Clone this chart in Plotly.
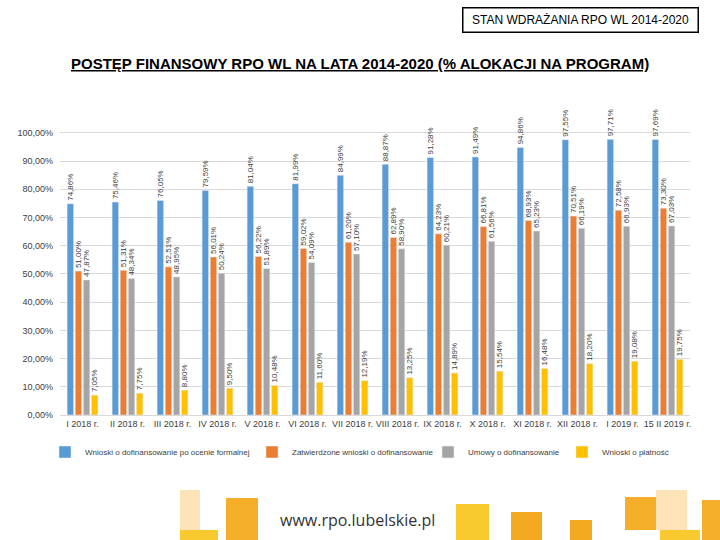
import plotly.graph_objects as go

categories = ["I 2018 r.", "II 2018 r.", "III 2018 r.", "IV 2018 r.", "V 2018 r.", "VI 2018 r.",
              "VII 2018 r.", "VIII 2018 r.", "IX 2018 r.", "X 2018 r.", "XI 2018 r.", "XII 2018 r.",
              "I 2019 r.", "15 II 2019 r."]
wnioski_ocena = [74.86, 75.46, 76.05, 79.59, 81.04, 81.99, 84.99, 88.87, 91.28, 91.49, 94.86, 97.55, 97.71, 97.69]
zatwierdzone = [51.00, 51.31, 52.51, 56.01, 56.22, 59.02, 61.20, 62.89, 64.23, 66.81, 68.93, 70.51, 72.58, 73.30]
umowy = [47.87, 48.34, 48.95, 50.24, 51.89, 54.09, 57.10, 58.90, 60.21, 61.56, 65.23, 66.19, 66.93, 67.03]
platnosci = [7.05, 7.75, 8.80, 9.50, 10.48, 11.60, 12.19, 13.25, 14.89, 15.54, 16.48, 18.20, 19.08, 19.75]

series_names = ["Wnioski o dofinansowanie po ocenie formalnej",
                "Zatwierdzone wnioski o dofinansowanie",
                "Umowy o dofinansowanie",
                "Wnioski o płatność"]
series_values = [wnioski_ocena, zatwierdzone, umowy, platnosci]
colors = ["#5B9BD5", "#ED7D31", "#A5A5A5", "#FFC000"]
legend_ids = ["legend", "legend2", "legend3", "legend4"]
legend_x_px = [45, 252, 428, 562]

tick_vals = [0, 10, 20, 30, 40, 50, 60, 70, 80, 90, 100]
tick_text = [f"{v:.2f}%".replace(".", ",") for v in tick_vals]

FONT = "Liberation Sans Narrow, Liberation Sans, Arial"
W, H = 720, 540
ML, MR, MT, MB = 60, 30, 90, 125
PW, PH = W - ML - MR, H - MT - MB


def px_x(x):
    return (x - ML) / PW


def px_y(y):
    return (H - MB - y) / PH


fig = go.Figure()
for name, vals, col, lg in zip(series_names, series_values, colors, legend_ids):
    fig.add_trace(go.Bar(
        x=categories, y=vals, name=name, marker_color=col, legend=lg,
        text=[f"{v:.2f}%".replace(".", ",") for v in vals],
        textposition="outside", textangle=-90,
        textfont=dict(size=8, color="#404040", family=FONT),
        cliponaxis=False,
    ))

legend_common = dict(orientation="h", xref="container", yref="container",
                     xanchor="left", yanchor="middle", y=(H - 452) / H,
                     font=dict(size=8, color="#404040", family=FONT),
                     itemwidth=30, bgcolor="rgba(0,0,0,0)", borderwidth=0)
legend_layout = {}
for lg, xp in zip(legend_ids, legend_x_px):
    legend_layout[lg] = dict(legend_common, x=xp / W)

fig.update_layout(
    width=W, height=H,
    paper_bgcolor="white", plot_bgcolor="white",
    barmode="group", bargap=0.28, bargroupgap=0.2,
    margin=dict(l=ML, r=MR, t=MT, b=MB, autoexpand=False),
    font=dict(family=FONT, color="#404040"),
    uniformtext=dict(minsize=7, mode="show"),
    xaxis=dict(showgrid=False, showline=True, linecolor="#D9D9D9", ticks="",
               tickfont=dict(size=9, color="#404040")),
    yaxis=dict(range=[0, 115.2], tickvals=tick_vals, ticktext=tick_text,
               showgrid=True, gridcolor="#D9D9D9", zeroline=False,
               ticklabelstandoff=6,
               tickfont=dict(size=9, color="#404040")),
    showlegend=True,
    **legend_layout,
)

# Slide header box and title
fig.add_annotation(xref="paper", yref="paper", x=px_x(580), y=px_y(20),
                   xanchor="center", yanchor="middle",
                   text="STAN WDRAŻANIA RPO WL 2014-2020", showarrow=False,
                   font=dict(size=12, color="black", family=FONT),
                   bordercolor="black", borderwidth=1.5, borderpad=3, bgcolor="white",
                   width=228, height=17)
fig.add_annotation(xref="paper", yref="paper", x=px_x(360), y=px_y(64),
                   xanchor="center", yanchor="middle",
                   text="<b><u>POSTĘP FINANSOWY RPO WL NA LATA 2014-2020 (% ALOKACJI NA PROGRAM)</u></b>",
                   showarrow=False, font=dict(size=15, color="black", family=FONT))

# Footer
fig.add_annotation(xref="paper", yref="paper", x=px_x(357), y=px_y(520),
                   xanchor="center", yanchor="middle",
                   text="www.rpo.lubelskie.pl", showarrow=False,
                   font=dict(size=16, color="#333333", family="Open Sans"))
deco = [(180, 490, 200, 530, "#FCE4B8"), (180, 530, 218, 540, "#F9C930"),
        (226, 498, 258, 540, "#F5AE2A"), (456, 504, 489, 540, "#F9C930"),
        (511, 512, 542, 540, "#F3A91F"), (570, 520, 592, 540, "#F3A91F"),
        (625, 497, 656, 530, "#F5AE2A"), (656, 490, 687, 530, "#FCE4B8"),
        (660, 530, 700, 540, "#F9C930"), (702, 500, 720, 540, "#F5AE2A")]
for x0, y0, x1, y1, c in deco:
    fig.add_shape(type="rect", xref="paper", yref="paper",
                  x0=px_x(x0), x1=px_x(x1), y0=px_y(y1), y1=px_y(y0),
                  fillcolor=c, line_width=0, layer="below")

fig.write_html("out.html", config={"displayModeBar": False},
               post_script="document.body.style.margin='0';")
